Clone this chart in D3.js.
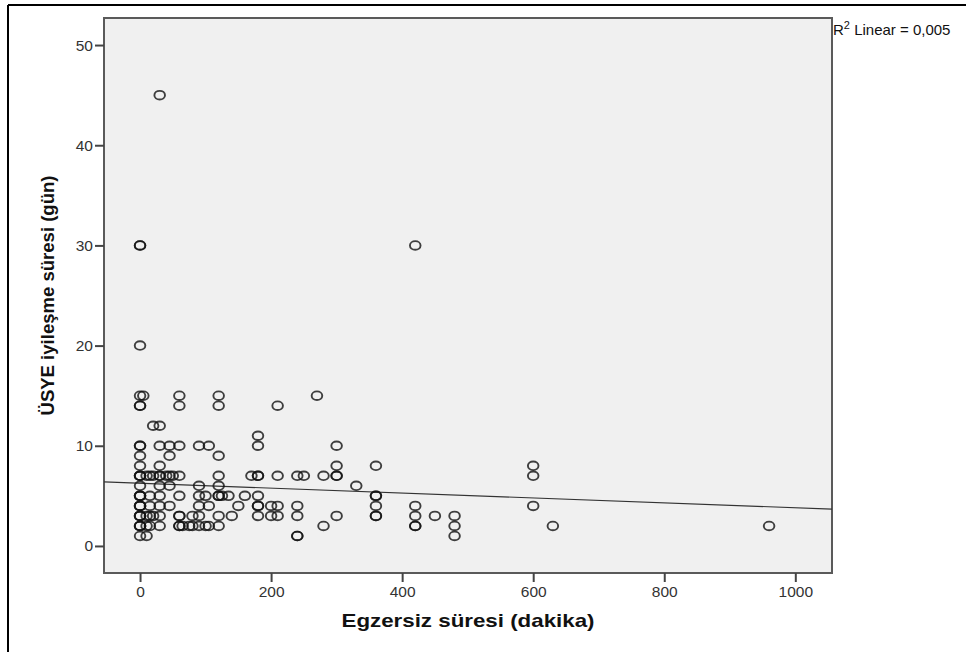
<!DOCTYPE html>
<html>
<head>
<meta charset="utf-8">
<script src="https://cdn.jsdelivr.net/npm/d3@7"></script>
<style>
    body { margin: 0; background: #fff; }
    svg { display: block; font-family: Arial, "Liberation Sans", sans-serif; }
</style>
</head>
<body>
<div class="chart"></div>
<script>
// exercise minutes vs recovery days
var exerciseMin = [
    30,
    0, 0, 420,
    0,
    0, 5, 60, 120, 270,
    0, 0, 60, 120, 210,
    20, 30,
    180,
    0, 0, 30, 45, 60, 90, 105, 180, 300,
    0, 45, 120,
    0, 30, 300, 360, 600,
    0, 0, 0, 10, 15, 20, 30, 30, 40, 45, 50, 60, 120, 170, 180, 180, 210, 240, 250, 280, 300, 300, 600,
    0, 30, 45, 90, 120, 330,
    0, 0, 0, 15, 30, 60, 90, 100, 120, 120, 125, 135, 160, 180, 360, 360,
    0, 0, 0, 15, 30, 45, 90, 105, 150, 180, 180, 200, 210, 240, 360, 420, 600,
    0, 0, 0, 10, 15, 20, 30, 60, 60, 80, 90, 120, 140, 180, 200, 210, 240, 300, 360, 360, 420, 450, 480,
    0, 0, 0, 10, 15, 30, 60, 60, 65, 75, 80, 90, 100, 105, 120, 280, 420, 420, 480, 630, 960,
    0, 10, 240, 240, 480
];
var recoveryDays = [
    45,
    30, 30, 30,
    20,
    15, 15, 15, 15, 15,
    14, 14, 14, 14, 14,
    12, 12,
    11,
    10, 10, 10, 10, 10, 10, 10, 10, 10,
    9, 9, 9,
    8, 8, 8, 8, 8,
    7, 7, 7, 7, 7, 7, 7, 7, 7, 7, 7, 7, 7, 7, 7, 7, 7, 7, 7, 7, 7, 7, 7,
    6, 6, 6, 6, 6, 6,
    5, 5, 5, 5, 5, 5, 5, 5, 5, 5, 5, 5, 5, 5, 5, 5,
    4, 4, 4, 4, 4, 4, 4, 4, 4, 4, 4, 4, 4, 4, 4, 4, 4,
    3, 3, 3, 3, 3, 3, 3, 3, 3, 3, 3, 3, 3, 3, 3, 3, 3, 3, 3, 3, 3, 3, 3,
    2, 2, 2, 2, 2, 2, 2, 2, 2, 2, 2, 2, 2, 2, 2, 2, 2, 2, 2, 2, 2,
    1, 1, 1, 1, 1
];
var xTicks = [0, 200, 400, 600, 800, 1000];
var yTicks = [0, 10, 20, 30, 40, 50];

// fit line (R2 linear = 0,005)
var fitIntercept = 6.26;
var fitSlope = -0.00245;

var W = 966, H = 652;
var plot = {left: 104, top: 18, right: 832, bottom: 573};

var svg = d3.select(".chart").append("svg")
    .attr("width", W)
    .attr("height", H);

// outer frame (only top and left edges show)
svg.append("line").attr("x1", 8).attr("y1", 5).attr("x2", W).attr("y2", 5)
    .attr("stroke", "#000").attr("stroke-width", 2);
svg.append("line").attr("x1", 8).attr("y1", 5).attr("x2", 8).attr("y2", H)
    .attr("stroke", "#000").attr("stroke-width", 2);

var x = d3.scaleLinear().domain([-55, 1056]).range([plot.left, plot.right]);
var y = d3.scaleLinear().domain([-2.7, 52.7]).range([plot.bottom, plot.top]);

svg.append("rect")
    .attr("x", plot.left).attr("y", plot.top)
    .attr("width", plot.right - plot.left).attr("height", plot.bottom - plot.top)
    .attr("fill", "#f0f0f0")
    .attr("stroke", "#5a5a5a").attr("stroke-width", 2);

var yAxis = svg.append("g")
    .attr("transform", "translate(" + plot.left + ",0)")
    .call(d3.axisLeft(y).tickValues(yTicks).tickFormat(d3.format("d")).tickSize(9).tickPadding(2));
var xAxis = svg.append("g")
    .attr("transform", "translate(0," + plot.bottom + ")")
    .call(d3.axisBottom(x).tickValues(xTicks).tickFormat(d3.format("d")).tickSize(9).tickPadding(4));

[xAxis, yAxis].forEach(function(g) {
    g.select(".domain").remove();
    g.selectAll(".tick line").attr("stroke", "#444").attr("stroke-width", 2);
    g.selectAll(".tick text")
        .attr("fill", "#333")
        .style("font-size", "15.5px")
        .style("font-family", "Arial, 'Liberation Sans', sans-serif");
});

// regression line
var x0 = x.domain()[0], x1 = x.domain()[1];
svg.append("line")
    .attr("x1", x(x0)).attr("y1", y(fitIntercept + fitSlope * x0))
    .attr("x2", x(x1)).attr("y2", y(fitIntercept + fitSlope * x1))
    .attr("stroke", "#333").attr("stroke-width", 1.1);

var points = exerciseMin.map(function(d, i) { return [d, recoveryDays[i]]; });

svg.append("g").selectAll("ellipse")
    .data(points)
    .enter().append("ellipse")
    .attr("cx", function(d) { return x(d[0]); })
    .attr("cy", function(d) { return y(d[1]); })
    .attr("rx", 5.3)
    .attr("ry", 4.3)
    .attr("fill", "none")
    .attr("stroke", "#111")
    .attr("stroke-opacity", 0.8)
    .attr("stroke-width", 1.9);

// titles
svg.append("text")
    .attr("x", (plot.left + plot.right) / 2)
    .attr("y", 627)
    .attr("text-anchor", "middle")
    .attr("textLength", 253)
    .attr("lengthAdjust", "spacingAndGlyphs")
    .style("font-size", "18.5px")
    .style("font-weight", "bold")
    .attr("fill", "#111")
    .text("Egzersiz süresi (dakika)");

svg.append("text")
    .attr("transform", "translate(54," + ((plot.top + plot.bottom) / 2) + ") rotate(-90)")
    .attr("text-anchor", "middle")
    .attr("textLength", 240)
    .attr("lengthAdjust", "spacingAndGlyphs")
    .style("font-size", "18px")
    .style("font-weight", "bold")
    .attr("fill", "#111")
    .text("ÜSYE iyileşme süresi (gün)");

var r2 = svg.append("text")
    .attr("x", 833)
    .attr("y", 35)
    .style("font-size", "15px")
    .attr("fill", "#111");
r2.append("tspan").text("R");
r2.append("tspan").attr("dy", -6).style("font-size", "11px").text("2");
r2.append("tspan").attr("dy", 6).text(" Linear = 0,005");
</script>
</body>
</html>
